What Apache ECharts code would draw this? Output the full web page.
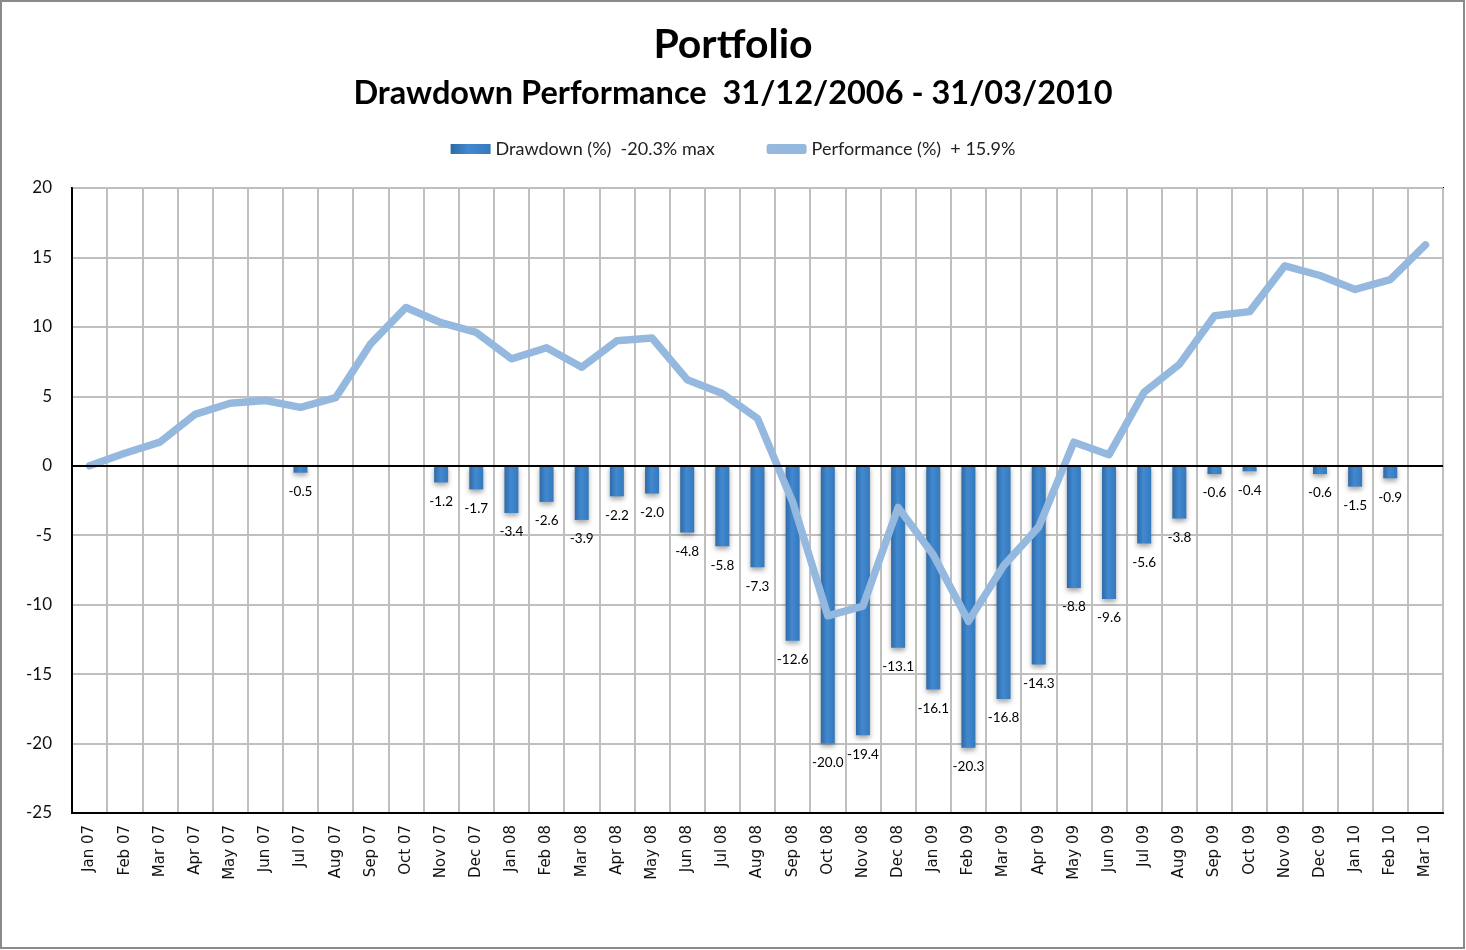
<!DOCTYPE html>
<html>
<head>
<meta charset="utf-8">
<script src="https://cdn.jsdelivr.net/npm/echarts@6/dist/echarts.min.js"></script>
<style>
html,body{margin:0;padding:0;background:#fff;}
#chart{width:1466px;height:950px;}
</style>
</head>
<body>
<div id="chart"></div>
<script>
const categories = ['Jan 07','Feb 07','Mar 07','Apr 07','May 07','Jun 07','Jul 07','Aug 07','Sep 07','Oct 07','Nov 07','Dec 07',
  'Jan 08','Feb 08','Mar 08','Apr 08','May 08','Jun 08','Jul 08','Aug 08','Sep 08','Oct 08','Nov 08','Dec 08',
  'Jan 09','Feb 09','Mar 09','Apr 09','May 09','Jun 09','Jul 09','Aug 09','Sep 09','Oct 09','Nov 09','Dec 09',
  'Jan 10','Feb 10','Mar 10'];
const drawdown = [0,0,0,0,0,0,-0.5,0,0,0,-1.2,-1.7,
  -3.4,-2.6,-3.9,-2.2,-2.0,-4.8,-5.8,-7.3,-12.6,-20.0,-19.4,-13.1,
  -16.1,-20.3,-16.8,-14.3,-8.8,-9.6,-5.6,-3.8,-0.6,-0.4,0,-0.6,
  -1.5,-0.9,0];
const performance = [0.0,0.9,1.7,3.7,4.5,4.7,4.2,4.9,8.8,11.4,10.3,9.6,
  7.7,8.5,7.1,9.0,9.2,6.2,5.2,3.4,-2.6,-10.8,-10.1,-3.0,
  -6.4,-11.2,-7.2,-4.4,1.7,0.8,5.3,7.3,10.8,11.1,14.4,13.7,
  12.7,13.4,15.9];
const yTicks = {min:-25, max:20, interval:5};
const seriesNames = ['Drawdown (%)  -20.3% max', 'Performance (%)  + 15.9%'];
const titleText = 'Portfolio';
const subtitleText = 'Drawdown Performance  31/12/2006 - 31/03/2010';

const font = "Lato, 'Open Sans', sans-serif";
const chart = echarts.init(document.getElementById('chart'));
chart.setOption({
  backgroundColor:'#fff',
  animation:false,
  graphic:[{type:'rect', shape:{x:1,y:1,width:1463,height:947}, style:{fill:'none', stroke:'#8a8a8a', lineWidth:2}, silent:true}],
  title:[
    {text:titleText, left:'center', top:19, textStyle:{fontFamily:font, fontWeight:'bold', fontSize:41, color:'#000'}},
    {text:subtitleText, left:'center', top:72, textStyle:{fontFamily:font, fontWeight:'bold', fontSize:32.5, color:'#000'}}
  ],
  legend:{
    top:135, left:'center', itemGap:52, itemWidth:40, itemHeight:10,
    textStyle:{fontFamily:font, fontSize:18, color:'#222'},
    data:[
      {name:seriesNames[0], icon:'rect'},
      {name:seriesNames[1], icon:'roundRect'}
    ]
  },
  grid:{left:72, right:23, top:188, bottom:137, show:true, borderColor:'#000', borderWidth:2, containLabel:false},
  xAxis:{
    type:'category', data:categories, boundaryGap:true,
    axisLine:{onZero:false, lineStyle:{color:'#000', width:2}},
    axisTick:{show:false},
    splitLine:{show:true, interval:0, lineStyle:{color:'#bfbfbf', width:2}},
    axisLabel:{interval:0, rotate:90, margin:12, fontFamily:"'DejaVu Sans', sans-serif", fontSize:15, color:'#111'}
  },
  yAxis:{
    type:'value', min:yTicks.min, max:yTicks.max, interval:yTicks.interval,
    axisLine:{show:true, lineStyle:{color:'#000', width:2}},
    axisTick:{show:false},
    splitLine:{show:true, lineStyle:{color:'#bfbfbf', width:2}},
    axisLabel:{margin:20, fontFamily:font, fontSize:17, color:'#111'}
  },
  series:[
    {
      name:seriesNames[0], type:'bar', data:drawdown, barWidth:14,
      itemStyle:{
        color:new echarts.graphic.LinearGradient(0,0,1,0,[
          {offset:0,color:'#2f6aa6'},{offset:0.45,color:'#4189d0'},{offset:1,color:'#3679bb'}]),
        shadowColor:'rgba(0,0,0,0.35)', shadowBlur:5, shadowOffsetY:3
      },
      label:{show:true, position:'bottom', distance:12, fontFamily:font, fontSize:13.5, color:'#000',
        formatter:p => p.value === 0 ? '' : p.value.toFixed(1)},
      markLine:{silent:true, symbol:'none', label:{show:false},
        lineStyle:{color:'#000', width:2, type:'solid'}, data:[{yAxis:0}]},
      z:2
    },
    {
      name:seriesNames[1], type:'line', data:performance, showSymbol:false, symbol:'none',
      itemStyle:{color:'#95b8df'},
      lineStyle:{color:'#95b8df', width:7.5, cap:'round', join:'round'},
      z:3
    }
  ]
});
</script>
</body>
</html>
